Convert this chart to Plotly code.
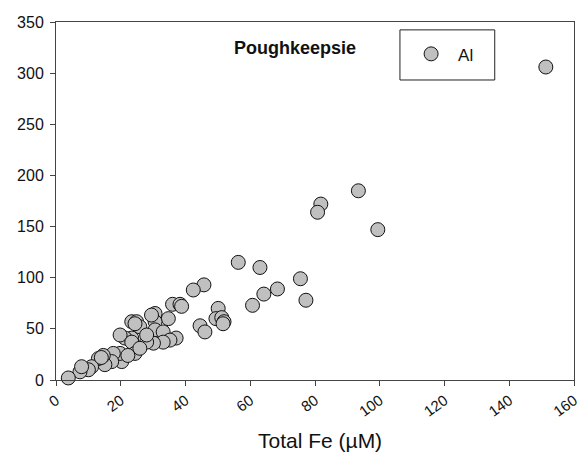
import plotly.graph_objects as go

# Total Fe (µM) vs Al (µM), Poughkeepsie samples
fe = [151.3, 93.4, 81.8, 80.8, 99.4,
      56.3, 63.0, 75.5, 45.7, 42.4, 68.4, 64.2, 77.2, 60.7, 36.0, 38.3, 38.8,
      50.1, 49.4, 51.2, 51.9, 51.6, 44.5, 46.0, 30.6, 34.7, 30.6, 30.6, 33.1,
      37.1, 35.2, 33.1, 30.1, 28.0, 23.4, 23.4, 24.9, 25.9, 24.4, 29.5, 28.0,
      21.3, 19.8, 23.4, 24.4, 25.9, 20.3, 19.8, 17.7, 17.2, 15.1, 14.6, 13.1,
      11.0, 10.0, 7.4, 7.9, 3.8, 22.2, 14.0]
al = [306, 185, 172, 164, 147,
      115, 110, 99, 93, 88, 89, 84, 78, 73, 74, 74, 72,
      70, 60, 61, 57, 55, 53, 47, 65, 60, 57, 49, 47,
      41, 39, 37, 36, 37, 41, 57, 57, 52, 55, 63.5, 44,
      41, 44, 37, 26, 31, 18, 26, 26, 18, 15, 24, 21,
      13, 10, 8, 13, 2, 24, 22]

x_ticks = [0, 20, 40, 60, 80, 100, 120, 140, 160]
y_ticks = [0, 50, 100, 150, 200, 250, 300, 350]

FONT = "Liberation Sans, Arial"

fig = go.Figure()
fig.add_trace(go.Scatter(
    x=fe, y=al, mode="markers", name="Al",
    marker=dict(size=14, color="#c0c0c0", line=dict(color="#111111", width=1)),
    cliponaxis=False,
))

axis_common = dict(
    showgrid=False, zeroline=False, showline=True, linecolor="#444444",
    linewidth=1, mirror=True, ticks="outside", ticklen=5, tickcolor="#444444",
    automargin=False,
)

fig.update_layout(
    width=579, height=466,
    margin=dict(l=56, r=5, t=22, b=86),
    paper_bgcolor="white", plot_bgcolor="white",
    xaxis=dict(range=[0, 160], tickvals=x_ticks, tickangle=-36,
               ticklabeloverflow="allow",
               tickfont=dict(family=FONT, size=15, color="#111111"),
               **axis_common),
    yaxis=dict(range=[0, 350], tickvals=y_ticks, ticklabelstandoff=3,
               tickfont=dict(family=FONT, size=16, color="#111111"),
               **axis_common),
    showlegend=True,
    legend=dict(x=0.672, y=0.96, xanchor="left", yanchor="top",
                itemwidth=44,
                bgcolor="rgba(0,0,0,0)", borderwidth=0,
                font=dict(family=FONT, size=17, color="#111111")),
    shapes=[dict(type="rect", xref="paper", yref="paper",
                 x0=0.664, x1=0.847, y0=0.838, y1=0.978,
                 line=dict(color="#222222", width=1))],
    annotations=[
        dict(text="<b>Poughkeepsie</b>", xref="paper", yref="paper",
             x=0.461, y=0.927, xanchor="center", yanchor="middle",
             showarrow=False,
             font=dict(family=FONT, size=18, color="#111111")),
        dict(text="Total Fe (µM)", xref="paper", yref="paper",
             x=0.51, y=-0.168, xanchor="center", yanchor="middle",
             showarrow=False,
             font=dict(family=FONT, size=21, color="#111111")),
    ],
)

fig.write_html("out.html")
